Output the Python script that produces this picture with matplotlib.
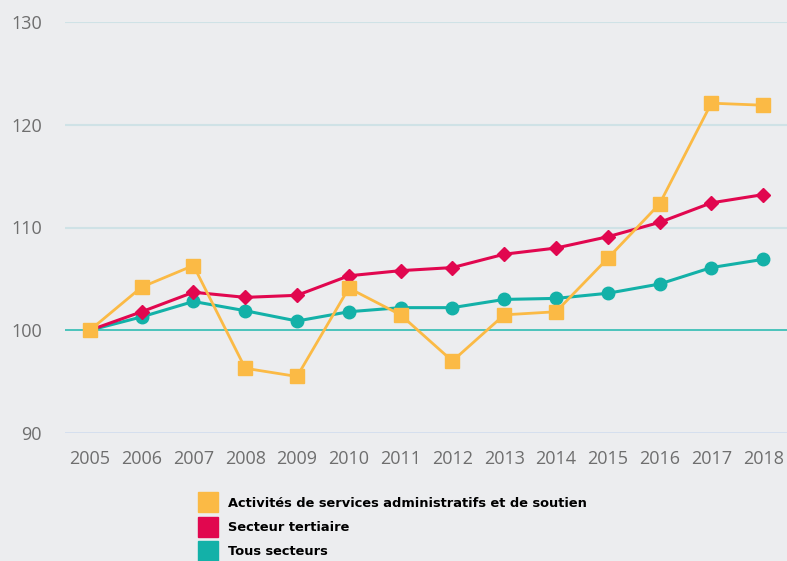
import matplotlib.pyplot as plt
from matplotlib.lines import Line2D

# values (index, 2005 = 100)
years = list(range(2005, 2019))
admin_services = [100, 104.2, 106.3, 96.3, 95.5, 104.1, 101.5, 97.0,
                  101.5, 101.8, 107.0, 112.3, 122.1, 121.9]
tertiary = [100, 101.8, 103.7, 103.2, 103.4, 105.3, 105.8, 106.1,
            107.4, 108.0, 109.1, 110.5, 112.4, 113.2]
all_sectors = [100, 101.3, 102.8, 101.9, 100.9, 101.8, 102.2, 102.2,
               103.0, 103.1, 103.6, 104.5, 106.1, 106.9]
y_ticks = [90, 100, 110, 120, 130]
labels = [
    "Activités de services administratifs et de soutien",
    "Secteur tertiaire",
    "Tous secteurs",
]

YELLOW = "#FBBA45"
RED = "#E1074F"
TEAL = "#13B1A8"
BG = "#ECEDEF"

fig = plt.figure(figsize=(7.87, 5.61), dpi=100, facecolor=BG)
ax = fig.add_axes([65 / 787, 1 - 433 / 561, 1 - 65 / 787, (433 - 22) / 561])
ax.set_facecolor(BG)

# grid lines
for v in y_ticks:
    if v == 100:
        ax.axhline(v, color="#2FBCB2", lw=1.2, zorder=1)
    elif v == 90:
        ax.axhline(v, color="#D3DEEE", lw=2.0, zorder=1)
    else:
        ax.axhline(v, color="#CFE2E6", lw=1.5, zorder=1)

ax.plot(years, all_sectors, color=TEAL, lw=2.2, marker="o", ms=9,
        zorder=3, clip_on=False)
ax.plot(years, tertiary, color=RED, lw=2.2, marker="D", ms=7,
        zorder=4, clip_on=False)
ax.plot(years, admin_services, color=YELLOW, lw=2.0, marker="s", ms=10,
        zorder=5, clip_on=False)

ax.set_xlim(2004.52, 2018.46)
ax.set_ylim(90, 130)
ax.set_xticks(years)
ax.set_yticks(y_ticks)
ax.tick_params(length=0, labelcolor="#6E6E6E", labelsize=13)
ax.tick_params(axis="y", pad=16.5)
ax.tick_params(axis="x", pad=12)
for lab in ax.get_xticklabels() + ax.get_yticklabels():
    lab.set_fontfamily("Open Sans")
for s in ax.spines.values():
    s.set_visible(False)

handles = [Line2D([], [], color=c, marker="s", ms=15, ls="none")
           for c in (YELLOW, RED, TEAL)]
fig.legend(handles, labels, loc="upper left",
           bbox_to_anchor=(201.5 / 787, 1 - 497 / 561),
           frameon=False, prop={"family": "DejaVu Sans", "weight": "bold", "size": 9.4},
           handlelength=1.0, handletextpad=1.0, labelspacing=0.85,
           borderpad=0, borderaxespad=0)

fig.savefig("out.png", dpi=100, facecolor=BG)
